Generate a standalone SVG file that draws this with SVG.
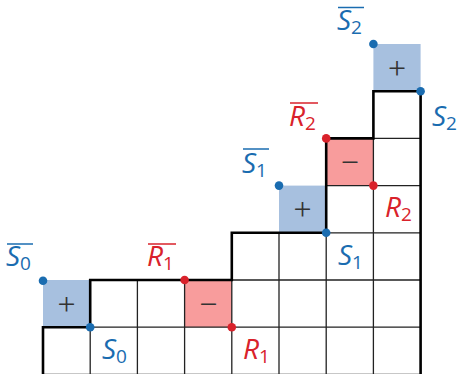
<svg xmlns="http://www.w3.org/2000/svg" width="457" height="374" viewBox="0 0 457 374">
<style>
.grid{stroke:#222;stroke-width:1.3;fill:none}
.thick{stroke:#000;stroke-width:2.6;fill:none;stroke-linejoin:miter;stroke-linecap:square}
.blue{fill:#a7c0df}
.red{fill:#f89c9c}
.sign{font-family:"Liberation Serif","DejaVu Serif",serif;font-size:32px;fill:#333;text-anchor:middle}
.lab{font-family:"Open Sans","DejaVu Sans",sans-serif;font-size:28px}
.lab .v{font-style:italic}
.lab .s{font-size:19px}
.bl{fill:#1a6cb0}
.rd{fill:#d9222b}
.ob{stroke:#1a6cb0;stroke-width:1.5}
.or{stroke:#d9222b;stroke-width:1.5}
.dotb{fill:#1a6cb0}
.dotr{fill:#d9222b}
</style>
<g id="shading">
<rect class="blue" x="43" y="280" width="47.2" height="47.2"/>
<rect class="blue" x="279" y="185.6" width="47.2" height="47.2"/>
<rect class="blue" x="373.4" y="44" width="47.2" height="47.2"/>
<rect class="red" x="184.6" y="280" width="47.2" height="47.2"/>
<rect class="red" x="326.2" y="138.4" width="47.2" height="47.2"/>
</g>
<g id="grid">
<path class="grid" d="M90.2,327.2V374.4M137.4,327.2V374.4M184.6,327.2V374.4M231.8,327.2V374.4M279,327.2V374.4M326.2,327.2V374.4M373.4,327.2V374.4M90.2,327.2H420.6M137.4,280V327.2M184.6,280V327.2M231.8,280V327.2M279,280V327.2M326.2,280V327.2M373.4,280V327.2M231.8,280H420.6M279,232.8V280M326.2,232.8V280M373.4,232.8V280M326.2,232.8H420.6M373.4,138.4V232.8M326.2,185.6H420.6M373.4,138.4H420.6M43,374.4H420.6"/>
<path class="thick" d="M43,374.4V327.2H90.2V280H231.8V232.8H326.2V138.4H373.4V91.2H420.6V374.4"/>
</g>
<g id="signs">
<text class="sign" x="66.6" y="314.5">+</text>
<text class="sign" x="302.6" y="220">+</text>
<text class="sign" x="397" y="78.5">+</text>
<text class="sign" x="208.2" y="314.5">−</text>
<text class="sign" x="349.8" y="173">−</text>
</g>
<g id="dots">
<circle class="dotb" cx="43" cy="280.7" r="4.3"/>
<circle class="dotb" cx="90.2" cy="327.2" r="4.3"/>
<circle class="dotb" cx="279" cy="185.6" r="4.3"/>
<circle class="dotb" cx="326.2" cy="232.8" r="4.3"/>
<circle class="dotb" cx="373.4" cy="44" r="4.3"/>
<circle class="dotb" cx="420.6" cy="91.2" r="4.3"/>
<circle class="dotr" cx="184.6" cy="280" r="4.3"/>
<circle class="dotr" cx="231.8" cy="327.2" r="4.3"/>
<circle class="dotr" cx="326.2" cy="138.4" r="4.3"/>
<circle class="dotr" cx="373.4" cy="185.6" r="4.3"/>
</g>
<g id="labels">
<text class="lab bl" x="6" y="266"><tspan class="v">S</tspan><tspan class="s" dy="4">0</tspan></text>
<line class="ob" x1="7" y1="244" x2="33" y2="244"/>
<text class="lab bl" x="102" y="359"><tspan class="v">S</tspan><tspan class="s" dy="4">0</tspan></text>
<text class="lab rd" x="147" y="266"><tspan class="v">R</tspan><tspan class="s" dy="4">1</tspan></text>
<line class="or" x1="148" y1="244" x2="176" y2="244"/>
<text class="lab rd" x="243" y="359"><tspan class="v">R</tspan><tspan class="s" dy="4">1</tspan></text>
<text class="lab bl" x="242" y="173"><tspan class="v">S</tspan><tspan class="s" dy="4">1</tspan></text>
<line class="ob" x1="243" y1="149" x2="269" y2="149"/>
<text class="lab bl" x="338" y="265"><tspan class="v">S</tspan><tspan class="s" dy="4">1</tspan></text>
<text class="lab rd" x="289" y="126"><tspan class="v">R</tspan><tspan class="s" dy="4">2</tspan></text>
<line class="or" x1="290" y1="103" x2="318" y2="103"/>
<text class="lab rd" x="385" y="217"><tspan class="v">R</tspan><tspan class="s" dy="4">2</tspan></text>
<text class="lab bl" x="337" y="30"><tspan class="v">S</tspan><tspan class="s" dy="4">2</tspan></text>
<line class="ob" x1="338" y1="7.5" x2="364" y2="7.5"/>
<text class="lab bl" x="432" y="126"><tspan class="v">S</tspan><tspan class="s" dy="4">2</tspan></text>
</g>
</svg>
